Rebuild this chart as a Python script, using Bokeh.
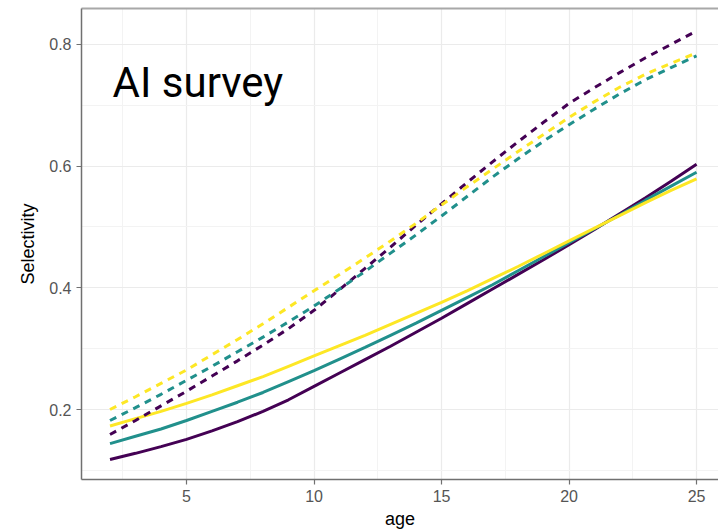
from bokeh.plotting import figure
from bokeh.models import Range1d, FixedTicker, LinearAxis, Label
from bokeh.embed import file_html
from bokeh.resources import INLINE

# ages and selectivity curves
age = list(range(2, 26))

solid_purple = [0.118, 0.128, 0.139, 0.151, 0.165, 0.180, 0.197, 0.216, 0.238, 0.260,
                0.282, 0.304, 0.327, 0.350, 0.374, 0.398, 0.422, 0.446, 0.471, 0.496,
                0.522, 0.548, 0.575, 0.603]
solid_teal = [0.144, 0.156, 0.168, 0.182, 0.197, 0.212, 0.228, 0.246, 0.264, 0.283,
              0.302, 0.322, 0.342, 0.363, 0.384, 0.405, 0.428, 0.451, 0.474, 0.497,
              0.520, 0.544, 0.567, 0.590]
solid_yellow = [0.173, 0.185, 0.197, 0.210, 0.224, 0.239, 0.254, 0.271, 0.288, 0.305,
                0.322, 0.340, 0.358, 0.376, 0.395, 0.415, 0.435, 0.456, 0.477, 0.498,
                0.519, 0.540, 0.560, 0.579]

dashed_purple = [0.159, 0.182, 0.206, 0.230, 0.255, 0.280, 0.306, 0.333, 0.363, 0.397,
                 0.432, 0.467, 0.503, 0.538, 0.573, 0.607, 0.640, 0.672, 0.703, 0.729,
                 0.754, 0.778, 0.800, 0.822]
dashed_teal = [0.182, 0.203, 0.225, 0.248, 0.271, 0.295, 0.319, 0.344, 0.370, 0.398,
               0.427, 0.457, 0.487, 0.518, 0.550, 0.582, 0.612, 0.641, 0.668, 0.694,
               0.719, 0.742, 0.762, 0.781]
dashed_yellow = [0.200, 0.221, 0.243, 0.265, 0.290, 0.315, 0.341, 0.368, 0.395, 0.422,
                 0.449, 0.477, 0.506, 0.536, 0.566, 0.595, 0.624, 0.652, 0.680, 0.706,
                 0.730, 0.751, 0.769, 0.786]

x_ticks = [5, 10, 15, 20, 25]
x_minor = [2.5, 7.5, 12.5, 17.5, 22.5]
y_ticks = [0.2, 0.4, 0.6, 0.8]
y_minor = [0.1, 0.3, 0.5, 0.7]

p = figure(
    width=718,
    height=532,
    output_backend="svg",
    toolbar_location=None,
    x_range=Range1d(0.882, 25.86),
    y_range=Range1d(0.085, 0.859),
    x_axis_label="age",
    y_axis_label="Selectivity",
    min_border_left=81,
    min_border_right=0,
    min_border_top=8,
    min_border_bottom=53,
    outline_line_color=None,
    background_fill_color="white",
)

# axes
p.xaxis.ticker = FixedTicker(ticks=x_ticks, minor_ticks=x_minor)
p.yaxis.ticker = FixedTicker(ticks=y_ticks, minor_ticks=y_minor)
for ax in (p.xaxis, p.yaxis):
    ax.axis_line_color = "#707070"
    ax.axis_line_width = 1.5
    ax.major_tick_line_color = "#707070"
    ax.major_tick_line_width = 1.2
    ax.major_tick_out = 5
    ax.major_tick_in = 0
    ax.minor_tick_line_color = None
    ax.major_label_text_color = "#555555"
    ax.major_label_text_font = "Liberation Sans"
    ax.major_label_text_font_size = "16px"
    ax.axis_label_text_font = "Liberation Sans"
    ax.axis_label_text_font_size = "18px"
    ax.axis_label_text_font_style = "normal"
    ax.axis_label_text_color = "black"
p.xaxis.major_label_standoff = 5
p.xaxis.axis_label_standoff = 4
p.yaxis.major_label_standoff = 5
p.yaxis.axis_label_standoff = 8

# top border of the panel
top = LinearAxis(
    ticker=FixedTicker(ticks=[]),
    axis_line_color="#a8a8a8",
    axis_line_width=2,
    major_tick_line_color=None,
    minor_tick_line_color=None,
    major_label_text_font_size="0px",
    major_label_standoff=0,
    major_tick_out=0,
    major_tick_in=0,
)
p.add_layout(top, "above")

# grid
p.grid.grid_line_color = "#ebebeb"
p.grid.grid_line_width = 1.2
p.grid.minor_grid_line_color = "#f3f3f3"
p.grid.minor_grid_line_width = 1

# curves
purple, teal, yellow = "#440154", "#21908C", "#FDE725"
p.line(age, solid_purple, color=purple, line_width=3)
p.line(age, solid_teal, color=teal, line_width=3)
p.line(age, solid_yellow, color=yellow, line_width=3)
p.line(age, dashed_purple, color=purple, line_width=3, line_dash="7 6")
p.line(age, dashed_teal, color=teal, line_width=3, line_dash="7 6")
p.line(age, dashed_yellow, color=yellow, line_width=3, line_dash="7 6")

p.add_layout(Label(
    x=2.1, y=0.737, text="AI survey",
    text_font="Roboto",
    text_font_size="42px",
    text_baseline="alphabetic",
    text_color="black",
))

open("out.html", "w").write(file_html(p, INLINE))
